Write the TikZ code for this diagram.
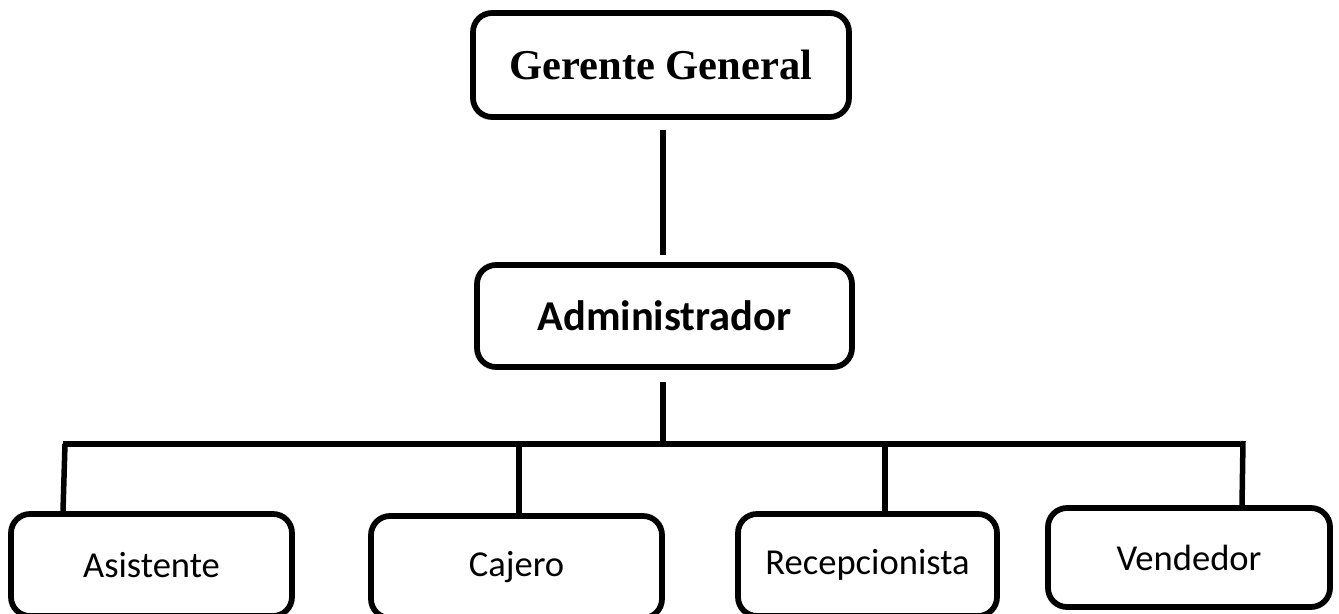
\documentclass[tikz,border=0pt]{standalone}
\usepackage{fontspec}
\setmainfont{Carlito}
\newfontfamily\serifbold{Liberation Serif}

\begin{document}
\begin{tikzpicture}[box/.style={draw, line width=0.115cm, rounded corners=0.38cm, inner sep=0pt},
    link/.style={line width=0.11cm}]
    \useasboundingbox (0,0) rectangle (26.78,12.26);
    \clip (0,0) rectangle (26.78,12.26);

    % draw boxes
    \node[box, minimum width=7.52cm, minimum height=2.08cm] (gerente) at (13.22,10.96)
      {\serifbold\bfseries\fontsize{24.2}{28}\selectfont Gerente General};
    \node[box, minimum width=7.5cm, minimum height=2.04cm] (admin) at (13.29,5.94)
      {\bfseries\fontsize{24.2}{28}\selectfont Administrador};
    \node[box, minimum width=5.62cm, minimum height=2.04cm] (asist) at (3.03,0.96)
      {\fontsize{20.8}{24}\selectfont Asistente};
    \node[box, minimum width=5.82cm, minimum height=2.04cm] (cajero) at (10.33,0.92)
      {\fontsize{20.8}{24}\selectfont Cajero};
    \node[box, minimum width=5.18cm, minimum height=2.04cm] (recep) at (17.35,0.96)
      {\fontsize{20.8}{24}\selectfont Recepcionista};
    \node[box, minimum width=5.64cm, minimum height=1.98cm] (vend) at (23.78,1.11)
      {\fontsize{20.8}{24}\selectfont Vendedor};

    % draw horizontal line
    \coordinate (barL) at (1.26,3.38);
    \coordinate (barR) at (24.80,3.38);
    \coordinate (jM) at (13.26,3.38);
    \coordinate (jA) at (1.30,3.38);
    \coordinate (jC) at (10.38,3.38);
    \coordinate (jR) at (17.70,3.38);
    \coordinate (jV) at (24.86,3.44);
    \draw[link] (barL) -- (barR);

    % draw vertical lines
    \draw[link, shorten <=0.21cm, shorten >=0.15cm] (jM |- gerente.south) -- (jM |- admin.north);
    \draw[link, shorten <=0.25cm] (jM |- admin.south) -- (jM);
    \draw[link] (jA) -- ([xshift=-0.04cm]jA |- asist.north);
    \foreach \j/\n in {jC/cajero, jR/recep}
      \draw[link] (\j) -- (\j |- \n.north);
    \draw[link] (jV) -- ([xshift=-0.02cm]jV |- vend.north);
  \end{tikzpicture}
\end{document}
